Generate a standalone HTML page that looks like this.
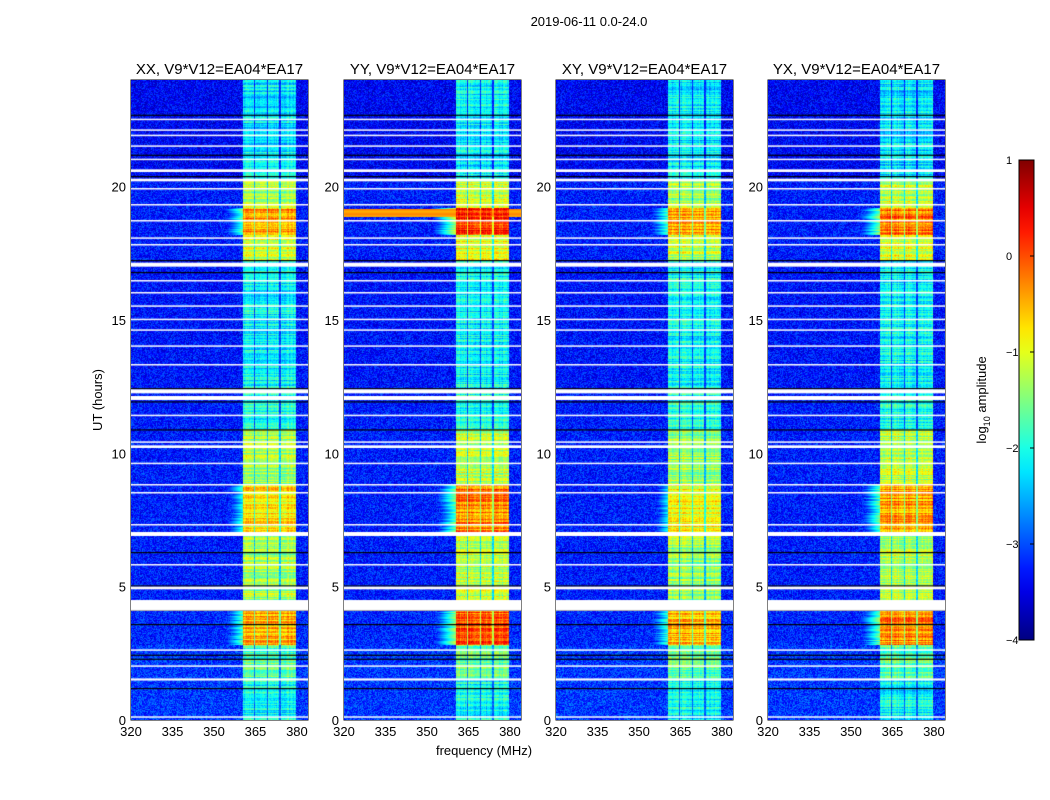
<!DOCTYPE html>
<html><head><meta charset="utf-8">
<style>
body{margin:0;background:#fff;width:1050px;height:800px;overflow:hidden;font-family:"Liberation Sans",sans-serif;position:relative}
.t{position:absolute;white-space:nowrap;color:#000}
canvas{position:absolute}
</style></head><body>
<div class="t" style="left:489px;top:14px;width:200px;text-align:center;font-size:13px">2019-06-11 0.0-24.0</div>
<svg id="svg" width="1050" height="800" style="position:absolute;left:0;top:0"></svg>
<script>
// ---- data ----
const panelTitles=["XX, V9*V12=EA04*EA17","YY, V9*V12=EA04*EA17","XY, V9*V12=EA04*EA17","YX, V9*V12=EA04*EA17"];
const panelLeft=[131,344,556,768];
const xTicks=[320,335,350,365,380];
const yTicks=[0,5,10,15,20];
const cbTicks=[1,0,-1,-2,-3,-4];
// bright channel groups (MHz)
const chanStart=[360.5,365.0,369.6,374.2];
const chanEnd=[364.4,369.0,373.6,379.7];
// time segments (hours) and band level (log10 amp) per polarization
const segStart=[0,1.5,2.8,4.5,7.05,8.8,10.9,12.5,17.2,18.2,19.2,20.3];
const segEnd=[1.5,2.8,4.1,7.05,8.8,10.9,12.5,17.2,18.2,19.2,20.3,24];
const bandXX=[-2.1,-1.7,-0.5,-1.3,-0.8,-1.3,-2.0,-2.1,-1.1,-0.4,-1.3,-2.2];
const bandYY=[-2.1,-1.6,-0.1,-1.2,-0.3,-1.2,-2.0,-2.1,-1.0,0.1,-1.2,-2.2];
const bandXY=[-2.1,-1.7,-0.6,-1.4,-0.9,-1.4,-2.0,-2.1,-1.2,-0.5,-1.4,-2.2];
const bandYX=[-2.1,-1.6,-0.3,-1.2,-0.4,-1.2,-2.0,-2.1,-1.0,-0.2,-1.2,-2.2];
const bgLevel=[-3.1,-3.1,-3.2,-3.25,-3.25,-3.25,-3.25,-3.3,-3.25,-3.25,-3.25,-3.4];
// flagged (white) rows, hours
const flagStart=[0.1,1.48,2.0,2.6,4.1,4.9,5.8,6.9,7.3,8.5,8.8,9.6,10.2,10.4,11.4,12.0,12.25,13.3,14.0,14.6,15.0,15.5,16.0,16.45,17.0,17.8,18.05,18.7,19.3,19.9,20.2,20.55,21.0,21.5,21.9,22.1,22.5];
const flagEnd=[0.14,1.56,2.05,2.65,4.5,5.0,5.85,7.05,7.35,8.55,8.85,9.65,10.3,10.45,11.45,12.15,12.4,13.35,14.05,14.65,15.05,15.55,16.05,16.5,17.15,17.85,18.1,18.75,19.35,19.95,20.3,20.65,21.05,21.55,21.95,22.15,22.55];
const blackRows=[1.2,2.3,2.45,3.6,5.05,6.3,10.9,11.95,12.45,16.8,17.25,20.4,21.2,22.7];
const bands=[bandXX,bandYY,bandXY,bandYX];

// ---- scales ----
const W=177,H=640,TOP=80,fMin=320,fMax=384,tMax=24,vMin=-4,vMax=1;
const xs=(p,f)=>panelLeft[p]+(f-fMin)/(fMax-fMin)*W;
const ys=h=>TOP+H-(h/tMax)*H;
function jet(v){let t=(v-vMin)/(vMax-vMin);t=Math.max(0,Math.min(1,t));
 const c=x=>Math.max(0,Math.min(1,x));
 return [c(1.5-Math.abs(4*t-3)),c(1.5-Math.abs(4*t-2)),c(1.5-Math.abs(4*t-1))].map(q=>Math.round(q*255));}
function hash(a,b){let h=(a*374761393+b*668265263)|0;h=(h^(h>>>13))*1274126177|0;return ((h^(h>>>16))>>>0)/4294967296;}
function segIdx(h){for(let i=0;i<segStart.length;i++)if(h>=segStart[i]&&h<segEnd[i])return i;return -1;}

const svg=document.getElementById('svg');const NS='http://www.w3.org/2000/svg';
function mk(tag,at,name,parent){const e=document.createElementNS(NS,tag);for(const k in at)e.setAttribute(k,at[k]);
 
 
 (parent||svg).appendChild(e);return e;}

for(let p=0;p<4;p++){
 const cv=document.createElement('canvas');cv.width=W;cv.height=H;
 cv.style.left=panelLeft[p]+'px';cv.style.top=TOP+'px';
 
 
 document.body.appendChild(cv);
 const ctx=cv.getContext('2d');const img=ctx.createImageData(W,H);
 for(let y=0;y<H;y++){
  const h=tMax*(1-(y+0.5)/H);const si=segIdx(h);
  const band=bands[p][si],bg=bgLevel[si];const rowN=hash(y,p+7)*0.8-0.4;
  for(let x=0;x<W;x++){
   const f=fMin+(x+0.5)/W*(fMax-fMin);let v=bg+hash(x+p*1000,y)*0.8-0.4;
   let inCh=false;for(let c=0;c<chanStart.length;c++)if(f>=chanStart[c]&&f<chanEnd[c])inCh=true;
   const colN=hash(x,p+31)*0.4-0.2;
   if(inCh){v=band+rowN+colN+hash(x,y+p*999)*0.4-0.2;}
   else if(f>=chanStart[0]&&f<chanEnd[chanEnd.length-1]){v=Math.max(bg,band-1.3)+hash(x,y)*0.4;}
   else if(f>352&&f<chanStart[0]&&band>-1.0){const d=(chanStart[0]-f)/8;v=Math.max(v,band-1.3-d*2.2+rowN);}
   if(p===1&&h>18.85&&h<19.15&&!inCh)v=Math.max(v,-0.4+rowN*0.4);
   const c=jet(v);const i=(y*W+x)*4;img.data[i]=c[0];img.data[i+1]=c[1];img.data[i+2]=c[2];img.data[i+3]=255;
  }}
 ctx.putImageData(img,0,0);
 for(let k=0;k<blackRows.length;k++){ctx.fillStyle='#000';ctx.fillRect(0,H-blackRows[k]/tMax*H,W,1.2);}
 for(let k=0;k<flagStart.length;k++){const y1=ys(flagEnd[k])-TOP,y0=ys(flagStart[k])-TOP;ctx.fillStyle='#fff';ctx.fillRect(0,y1,W,Math.max(1.5,y0-y1));}
 mk('rect',{x:panelLeft[p],y:TOP,width:W,height:H,fill:'none',stroke:'#000','stroke-width':1},'panel-frame-'+(p+1));
 xTicks.forEach(t=>{const x=xs(p,t);
  mk('line',{x1:x,x2:x,y1:TOP+H,y2:TOP+H-4,stroke:'#000'},'x-tick');
  const tx=mk('text',{x:x,y:TOP+H+16,'font-size':13,'text-anchor':'middle','font-family':'Liberation Sans'},'x-tick-label');tx.textContent=t;});
 yTicks.forEach(t=>{const y=ys(t);
  mk('line',{x1:panelLeft[p],x2:panelLeft[p]+4,y1:y,y2:y,stroke:'#000'},'y-tick');
  const tx=mk('text',{x:panelLeft[p]-5,y:y+5,'font-size':13,'text-anchor':'end','font-family':'Liberation Sans'},'y-tick-label');tx.textContent=t;});
 const tt=mk('text',{x:panelLeft[p]+W/2,y:74,'font-size':15,'text-anchor':'middle','font-family':'Liberation Sans'},'panel-title-'+(p+1));tt.textContent=panelTitles[p];
}
const xl=mk('text',{x:484,y:755,'font-size':13,'text-anchor':'middle','font-family':'Liberation Sans'},'x-axis-title');xl.textContent='frequency (MHz)';
const yl=mk('text',{x:0,y:0,'font-size':13,'text-anchor':'middle','font-family':'Liberation Sans',transform:'translate(102,400) rotate(-90)'},'y-axis-title');yl.textContent='UT (hours)';
const cbX=1019,cbW=15,cbTop=160,cbH=480;
const defs=mk('defs',{},'defs');const lg=mk('linearGradient',{id:'jg',x1:0,y1:1,x2:0,y2:0},'colorbar-gradient',defs);
for(let i=0;i<=20;i++){const v=vMin+(vMax-vMin)*i/20;const c=jet(v);mk('stop',{offset:i/20,'stop-color':`rgb(${c})`},'gradient-stop',lg);}
mk('rect',{x:cbX,y:cbTop,width:cbW,height:cbH,fill:'url(#jg)',stroke:'#000'},'colorbar');
cbTicks.forEach(t=>{const y=cbTop+(vMax-t)/(vMax-vMin)*cbH;
 mk('line',{x1:cbX+cbW-4,x2:cbX+cbW,y1:y,y2:y,stroke:'#000'},'colorbar-tick');
 const tx=mk('text',{x:1006,y:y+4,'font-size':11,'text-anchor':'start','font-family':'Liberation Sans'},'colorbar-tick-label');tx.textContent=t<0?'\u2212'+(-t):t;});
const cl=mk('text',{x:0,y:0,'font-size':13,'text-anchor':'middle','font-family':'Liberation Sans',transform:'translate(986,400) rotate(-90)'},'colorbar-label');
cl.innerHTML='log<tspan font-size="9" dy="4">10</tspan><tspan dy="-4"> amplitude</tspan>';
</script>
</body></html>
